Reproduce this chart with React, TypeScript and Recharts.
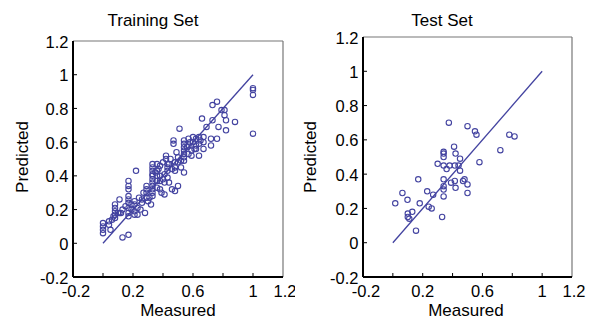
import React from 'react';
import { ScatterChart, Scatter, XAxis, YAxis, ReferenceLine } from 'recharts';

// Training set: measured (x) vs predicted (y)
const trainMeasured = [
  0, 0, 0, 0, 0.04, 0.04, 0.05, 0.08, 0.08, 0.08, 0.08, 0.08, 0.11, 0.11, 0.07, 0.12, 0.13, 0.17,
  0.17, 0.17, 0.17, 0.17, 0.17, 0.17, 0.17, 0.17, 0.17, 0.19, 0.19, 0.22, 0.21, 0.21, 0.21, 0.21,
  0.23, 0.23, 0.26, 0.26, 0.28, 0.29, 0.29, 0.29, 0.29, 0.32, 0.33, 0.33, 0.33, 0.33, 0.33, 0.33,
  0.33, 0.33, 0.33, 0.33, 0.33, 0.36, 0.36, 0.36, 0.36, 0.38, 0.38, 0.38, 0.38, 0.39, 0.41, 0.41,
  0.41, 0.42, 0.42, 0.43, 0.43, 0.43, 0.46, 0.48, 0.5, 0.47, 0.47, 0.48, 0.48, 0.48, 0.51, 0.5,
  0.5, 0.52, 0.52, 0.54, 0.54, 0.54, 0.54, 0.54, 0.54, 0.54, 0.54, 0.57, 0.57, 0.57, 0.59, 0.59,
  0.6, 0.6, 0.62, 0.62, 0.62, 0.64, 0.64, 0.64, 0.66, 0.67, 0.67, 0.67, 0.69, 0.72, 0.72, 0.73,
  0.76, 0.73, 0.76, 0.77, 0.79, 0.81, 0.81, 0.82, 0.82, 0.88, 1.0, 1.0, 1.0, 1.0,
  0.36, 0.37, 0.4, 0.44, 0.4, 0.45, 0.43, 0.46, 0.13, 0.15, 0.24, 0.27, 0.25, 0.3, 0.1, 0.06,
  0.56, 0.58, 0.61, 0.65, 0.31, 0.35, 0.44, 0.49,
];
const trainPredicted = [
  0.12, 0.1, 0.08, 0.06, 0.13, 0.11, 0.08, 0.23, 0.21, 0.19, 0.17, 0.15, 0.26, 0.18, 0.16, 0.18, 0.035, 0.05,
  0.37, 0.34, 0.32, 0.28, 0.26, 0.24, 0.21, 0.18, 0.16, 0.23, 0.2, 0.43, 0.25, 0.23, 0.19, 0.17,
  0.21, 0.17, 0.26, 0.24, 0.18, 0.34, 0.32, 0.3, 0.27, 0.23, 0.47, 0.45, 0.43, 0.41, 0.4, 0.38,
  0.36, 0.34, 0.32, 0.3, 0.28, 0.43, 0.4, 0.37, 0.33, 0.46, 0.4, 0.37, 0.32, 0.3, 0.41, 0.36,
  0.29, 0.52, 0.5, 0.45, 0.43, 0.39, 0.32, 0.31, 0.34, 0.61, 0.59, 0.48, 0.45, 0.43, 0.68, 0.51,
  0.48, 0.49, 0.45, 0.61, 0.59, 0.57, 0.55, 0.53, 0.51, 0.49, 0.42, 0.62, 0.58, 0.53, 0.55, 0.52,
  0.63, 0.6, 0.62, 0.58, 0.56, 0.63, 0.59, 0.52, 0.74, 0.63, 0.6, 0.56, 0.69, 0.62, 0.58, 0.82,
  0.84, 0.73, 0.62, 0.69, 0.79, 0.79, 0.76, 0.73, 0.67, 0.72, 0.92, 0.91, 0.88, 0.65,
  0.47, 0.44, 0.38, 0.36, 0.48, 0.5, 0.47, 0.44, 0.2, 0.22, 0.27, 0.3, 0.2, 0.25, 0.18, 0.14,
  0.57, 0.6, 0.56, 0.61, 0.27, 0.42, 0.47, 0.54,
];

// Test set: measured (x) vs predicted (y)
const testMeasured = [
  0.016, 0.064, 0.098, 0.1, 0.1, 0.11, 0.13, 0.155, 0.17, 0.18, 0.23, 0.24, 0.26, 0.27, 0.3, 0.33,
  0.34, 0.34, 0.34, 0.34, 0.34, 0.34, 0.34, 0.34, 0.36, 0.375, 0.38, 0.39, 0.41, 0.415, 0.415, 0.42,
  0.42, 0.44, 0.45, 0.45, 0.47, 0.48, 0.5, 0.5, 0.5, 0.55, 0.56, 0.58, 0.72, 0.78, 0.815,
];
const testPredicted = [
  0.23, 0.29, 0.25, 0.17, 0.15, 0.14, 0.18, 0.07, 0.37, 0.23, 0.3, 0.21, 0.2, 0.28, 0.46, 0.15,
  0.53, 0.52, 0.5, 0.45, 0.37, 0.33, 0.31, 0.27, 0.43, 0.7, 0.45, 0.35, 0.56, 0.45, 0.36, 0.52,
  0.32, 0.45, 0.49, 0.42, 0.36, 0.37, 0.34, 0.29, 0.68, 0.65, 0.63, 0.47, 0.54, 0.63, 0.62,
];

const fitLine = [{ x: 0, y: 0 }, { x: 1, y: 1 }];

const tickValues = [-0.2, 0, 0.2, 0.4, 0.6, 0.8, 1, 1.2];
const xLabelValues = [-0.2, 0.2, 0.6, 1, 1.2];
const markValues = [0, 0.2, 0.4, 0.6, 0.8, 1];
const titles = ['Training Set', 'Test Set'];
const xTitle = 'Measured';
const yTitle = 'Predicted';

const trainData = trainMeasured.map((x, i) => ({ x, y: trainPredicted[i] }));
const testData = testMeasured.map((x, i) => ({ x, y: testPredicted[i] }));

const BLUE = '#4343a0';
const FONT = '"Liberation Sans", Arial, sans-serif';

const near = (a: number, list: number[]) => list.some((v) => Math.abs(v - a) < 1e-6);
const fmt = (v: number) => (Math.abs(v) < 1e-9 ? '0' : String(Math.round(v * 10) / 10));

const XTick = (props: any) => {
  const { x, y, payload } = props;
  const v = payload.value;
  let dx = 0;
  if (Math.abs(v + 0.2) < 1e-6) dx = 3;
  if (Math.abs(v - 1.2) < 1e-6) dx = 2;
  return (
    <g>
      {near(v, markValues) && <line x1={x} x2={x} y1={y} y2={y - 4} stroke="#000" strokeWidth={1} />}
      {near(v, xLabelValues) && (
        <text x={x + dx} y={y + 20} textAnchor="middle" fontSize={16.5} fontFamily={FONT} fill="#000">
          {fmt(v)}
        </text>
      )}
    </g>
  );
};

const YTick = (props: any) => {
  const { x, y, payload } = props;
  const v = payload.value;
  return (
    <g>
      {near(v, markValues) && <line x1={x} x2={x + 4} y1={y} y2={y} stroke="#000" strokeWidth={1} />}
      <text x={x - 4.5} y={y + 6.5} textAnchor="end" fontSize={16.5} fontFamily={FONT} fill="#000">
        {fmt(v)}
      </text>
    </g>
  );
};

const Dot = (p: any) => (
  <circle cx={p.cx} cy={p.cy} r={2.7} fill="none" stroke={BLUE} strokeWidth={1.1} />
);

const Panel = ({ data, width, margin }: { data: { x: number; y: number }[]; width: number; margin: any }) => (
  <ScatterChart width={width} height={321} margin={margin}>
    <XAxis
      type="number"
      dataKey="x"
      domain={[-0.2, 1.2]}
      ticks={tickValues}
      interval={0}
      height={30}
      tickSize={0}
      tickMargin={0}
      tickLine={false}
      axisLine={{ stroke: '#000', strokeWidth: 2 }}
      tick={<XTick />}
      allowDataOverflow
    />
    <YAxis
      type="number"
      dataKey="y"
      domain={[-0.2, 1.2]}
      ticks={tickValues}
      interval={0}
      width={40}
      tickSize={0}
      tickMargin={0}
      tickLine={false}
      axisLine={{ stroke: '#000', strokeWidth: 2 }}
      tick={<YTick />}
      allowDataOverflow
    />
    <ReferenceLine y={1.2} stroke="#777" strokeWidth={1.2} />
    <ReferenceLine x={1.2} stroke="#777" strokeWidth={1.2} />
    <ReferenceLine segment={fitLine} stroke={BLUE} strokeWidth={1.3} />
    <Scatter data={data} shape={Dot} isAnimationActive={false} />
  </ScatterChart>
);

export default function App() {
  return (
    <div style={{ position: 'absolute', left: 0, top: 0, width: 591, height: 321, background: '#fff' }}>
      <div style={{ position: 'absolute', left: 0, top: 0 }}>
        <Panel data={trainData} width={295} margin={{ top: 41, right: 12, bottom: 14, left: 33 }} />
      </div>
      <div style={{ position: 'absolute', left: 295, top: 0 }}>
        <Panel data={testData} width={296} margin={{ top: 37, right: 19, bottom: 14, left: 28 }} />
      </div>
      <svg
        width={591}
        height={321}
        style={{ position: 'absolute', left: 0, top: 0, pointerEvents: 'none' }}
      >
        <g fontFamily={FONT} fontSize={17} fill="#000">
          <text x={153} y={26} textAnchor="middle">{titles[0]}</text>
          <text x={442} y={26} textAnchor="middle">{titles[1]}</text>
          <text x={178} y={316} textAnchor="middle">{xTitle}</text>
          <text x={466} y={316} textAnchor="middle">{xTitle}</text>
          <text x={28} y={157} textAnchor="middle" transform="rotate(-90 28 157)">{yTitle}</text>
          <text x={316} y={157} textAnchor="middle" transform="rotate(-90 316 157)">{yTitle}</text>
        </g>
      </svg>
    </div>
  );
}
